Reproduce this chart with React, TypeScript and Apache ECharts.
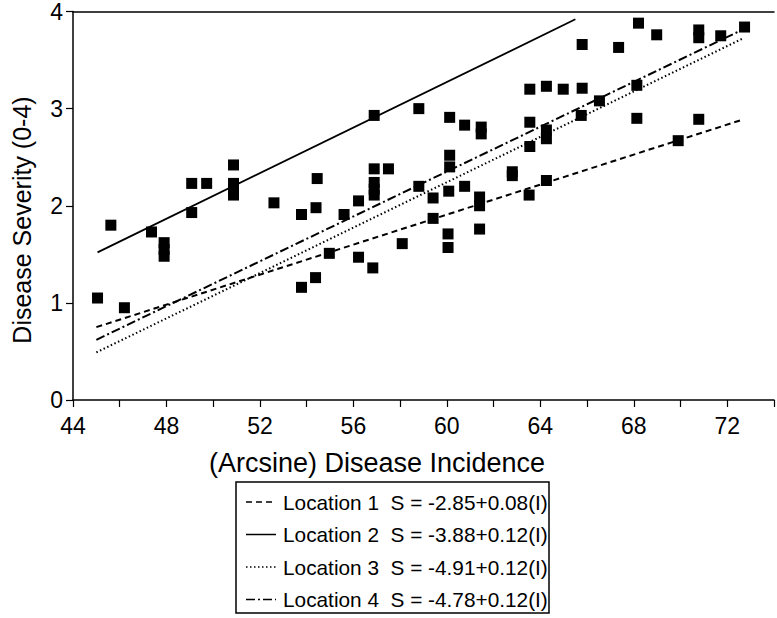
import React, { useEffect, useRef } from "react";
import * as echarts from "echarts";

// ---- data ----
const points: [number, number][] = [
  [45.05, 1.05], [45.62, 1.8], [46.2, 0.95], [47.36, 1.73],
  [47.9, 1.62], [47.9, 1.55], [47.9, 1.48],
  [49.08, 2.23], [49.08, 1.93], [49.72, 2.23],
  [50.87, 2.42], [50.87, 2.23], [50.87, 2.17], [50.87, 2.11],
  [52.6, 2.03], [53.78, 1.91], [53.78, 1.16],
  [54.45, 2.28], [54.4, 1.98], [54.38, 1.26], [54.97, 1.51], [55.6, 1.91],
  [56.22, 2.05], [56.22, 1.47],
  [56.89, 2.93], [56.89, 2.38], [56.89, 2.24], [56.89, 2.17], [56.89, 2.11], [56.83, 1.36],
  [57.5, 2.38], [58.09, 1.61], [58.8, 3.0], [58.8, 2.2],
  [59.41, 2.08], [59.41, 1.87],
  [60.12, 2.91], [60.12, 2.52], [60.12, 2.4], [60.08, 2.15], [60.05, 1.71], [60.05, 1.57],
  [60.76, 2.83], [60.76, 2.2],
  [61.47, 2.81], [61.47, 2.74], [61.4, 2.09], [61.4, 2.0], [61.4, 1.76],
  [62.8, 2.35], [62.8, 2.31],
  [63.55, 3.2], [63.55, 2.86], [63.55, 2.61], [63.52, 2.11],
  [64.26, 3.23], [64.26, 2.78], [64.26, 2.69], [64.26, 2.26],
  [64.98, 3.2], [65.79, 3.66], [65.79, 3.21], [65.75, 2.93],
  [66.53, 3.08], [67.35, 3.63],
  [68.2, 3.88], [68.13, 3.24], [68.13, 2.9],
  [68.98, 3.76], [69.9, 2.67],
  [70.78, 3.81], [70.78, 3.73], [70.78, 2.89],
  [71.72, 3.75], [72.74, 3.84],
];

const loc1Line: [number, number][] = [[45.0, 0.75], [72.7, 2.89]];
const loc2Line: [number, number][] = [[45.05, 1.52], [65.5, 3.92]];
const loc3Line: [number, number][] = [[45.0, 0.49], [72.65, 3.72]];
const loc4Line: [number, number][] = [[45.0, 0.62], [72.8, 3.83]];

const legendLabels = [
  "Location 1  S = -2.85+0.08(I)",
  "Location 2  S = -3.88+0.12(I)",
  "Location 3  S = -4.91+0.12(I)",
  "Location 4  S = -4.78+0.12(I)",
];

const xTitle = "(Arcsine) Disease Incidence";
const yTitle = "Disease Severity (0-4)";

// ---- styles ----
const INK = "#000";
const FONT = "'Liberation Sans', Arial, sans-serif";
const dashes: (number[] | "solid")[] = [[6, 4], "solid", [1.5, 2.5], [9, 3, 2, 3]];

export default function App() {
  const ref = useRef<HTMLDivElement>(null);

  useEffect(() => {
    if (!ref.current) return;
    const chart = echarts.init(ref.current, undefined, { renderer: "svg" });

    const lines = [loc1Line, loc2Line, loc3Line, loc4Line];

    const legendX = 236;
    const legendY = 482;
    const rowY0 = 502;
    const rowGap = 32.5;

    const legendGraphics: any[] = [
      {
        type: "rect",
        shape: { x: legendX, y: legendY, width: 313, height: 131 },
        style: { fill: "#fff", stroke: INK, lineWidth: 1.5 },
      },
    ];
    legendLabels.forEach((label, i) => {
      const y = rowY0 + i * rowGap;
      const d = dashes[i];
      legendGraphics.push({
        type: "line",
        shape: { x1: 246, y1: y, x2: 276, y2: y },
        style: {
          stroke: INK,
          lineWidth: 1.5,
          lineDash: d === "solid" ? null : d,
        },
      });
      legendGraphics.push({
        type: "text",
        x: 283,
        y,
        style: {
          text: label,
          fill: INK,
          font: `20.8px ${FONT}`,
          textVerticalAlign: "middle",
          textAlign: "left",
        },
      });
    });

    const option: any = {
      animation: false,
      backgroundColor: "#fff",
      grid: { left: 73, top: 10, right: 0, bottom: 218 },
      xAxis: [
        {
          type: "value",
          min: 44,
          max: 74,
          interval: 2,
          axisLine: { show: true, onZero: false, lineStyle: { color: INK, width: 1.5 } },
          axisTick: { show: true, length: 7, lineStyle: { color: INK, width: 1.2 } },
          splitLine: { show: false },
          axisLabel: {
            color: INK,
            fontSize: 23,
            fontFamily: FONT,
            margin: 14,
            formatter: (v: number) => (v % 4 === 0 && v <= 72 ? String(v) : ""),
          },
        },
        {
          type: "value",
          position: "top",
          min: 44,
          max: 74,
          axisLine: { show: true, onZero: false, lineStyle: { color: INK, width: 1.5 } },
          axisTick: { show: false },
          axisLabel: { show: false },
          splitLine: { show: false },
        },
      ],
      yAxis: {
        type: "value",
        min: 0,
        max: 4,
        interval: 1,
        axisLine: { show: true, onZero: false, lineStyle: { color: INK, width: 1.5 } },
        axisTick: { show: true, length: 7, lineStyle: { color: INK, width: 1.2 } },
        splitLine: { show: false },
        axisLabel: { color: INK, fontSize: 23, fontFamily: FONT, margin: 10 },
      },
      series: [
        ...lines.map((data, i) => ({
          type: "line",
          data,
          symbol: "none",
          silent: true,
          lineStyle: {
            color: INK,
            width: i === 1 ? 1.8 : 2,
            type: dashes[i],
          },
          z: 2,
        })),
        {
          type: "scatter",
          data: points,
          symbol: "rect",
          symbolSize: 11,
          itemStyle: { color: "#000", opacity: 1 },
          z: 3,
        },
      ],
      graphic: [
        {
          type: "text",
          x: 377,
          y: 463,
          style: {
            text: xTitle,
            fill: INK,
            font: `27px ${FONT}`,
            textAlign: "center",
            textVerticalAlign: "middle",
          },
        },
        {
          type: "text",
          x: 22,
          y: 220,
          rotation: Math.PI / 2,
          style: {
            text: yTitle,
            fill: INK,
            font: `25px ${FONT}`,
            textAlign: "center",
            textVerticalAlign: "middle",
          },
        },
        ...legendGraphics,
      ],
    };

    chart.setOption(option);
    return () => chart.dispose();
  }, []);

  return (
    <div
      ref={ref}
      style={{ position: "absolute", left: 0, top: 0, width: 777, height: 618 }}
    />
  );
}
